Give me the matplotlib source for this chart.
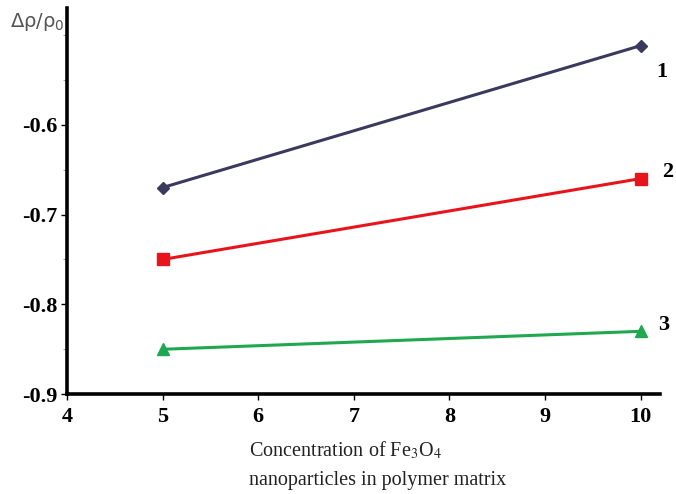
import matplotlib.pyplot as plt

conc = [5, 10]
s1 = [-0.67, -0.512]
s2 = [-0.75, -0.66]
s3 = [-0.85, -0.83]
xticks = [4, 5, 6, 7, 8, 9, 10]
yticks = [-0.6, -0.7, -0.8, -0.9]
yminor = [-0.5, -0.55, -0.65, -0.75, -0.85]

fig = plt.figure(figsize=(6.76, 4.94), dpi=100)
ax = fig.add_axes([0.099, 0.202, 0.877, 0.782])

ax.plot(conc, s1, color="#3b3a5e", lw=2.2, marker="D", ms=6)
ax.plot(conc, s2, color="#e8141c", lw=2.2, marker="s", ms=8)
ax.plot(conc, s3, color="#1fa84f", lw=2.2, marker="^", ms=8)

ax.set_xlim(4, 10.2)
ax.set_ylim(-0.9, -0.47)
ax.set_xticks(xticks)
ax.set_yticks(yticks)
ax.set_yticks(yminor, minor=True)
ax.set_xticklabels([str(t) for t in xticks], family="Liberation Serif", fontsize=16, fontweight="bold")
ax.set_yticklabels(["-0.6", "-0.7", "-0.8", "-0.9"], family="Liberation Serif", fontsize=16, fontweight="bold")
ax.tick_params(axis="y", which="major", length=4, width=1, direction="out", pad=3)
ax.tick_params(axis="y", which="minor", length=3, width=0.8, colors="#aaaaaa")
ax.tick_params(axis="x", length=4, width=1, direction="out", pad=5)

for side in ["top", "right"]:
    ax.spines[side].set_visible(False)
for side in ["left", "bottom"]:
    ax.spines[side].set_linewidth(2.6)

for lab, x, y in [("1", 662, 72), ("2", 668, 172), ("3", 664, 325)]:
    fig.text(x / 676, 1 - y / 494, lab, family="Liberation Serif", fontsize=16,
             fontweight="bold", ha="center", va="center")

fig.text(10 / 676, 1 - 22 / 494, "Δρ/ρ$_0$", family="DejaVu Sans", fontsize=14,
         color="#555555", ha="left", va="center")
fig.text(249 / 676, 1 - 450 / 494, "Concentration of Fe$_3$O$_4$",
         family="Liberation Serif", fontsize=14.5, ha="left", va="center",
         math_fontfamily="stix", color="#222222")
fig.text(249 / 676, 1 - 480 / 494, "nanoparticles in polymer matrix",
         family="Liberation Serif", fontsize=14.5, ha="left", va="center", color="#222222")

fig.savefig("out.png", dpi=100)
